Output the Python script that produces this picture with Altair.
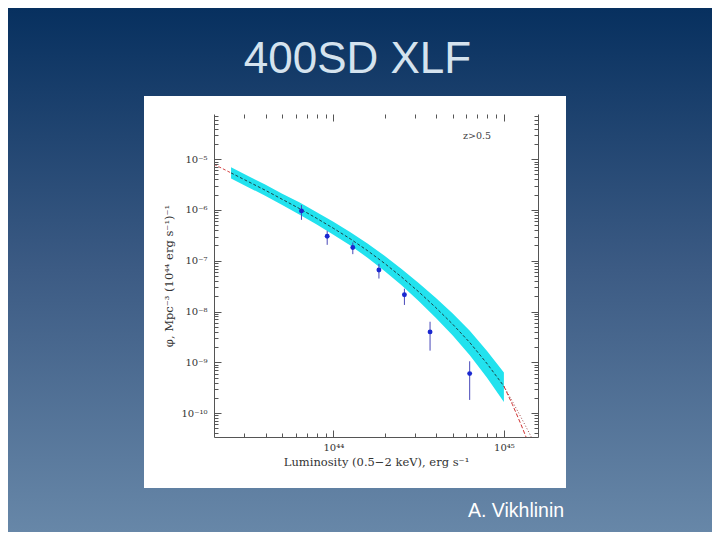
import altair as alt
import pandas as pd

# ---------------- data ----------------
# binned XLF points (L in erg/s, phi in Mpc^-3 (1e44 erg/s)^-1)
pt_L = [6.5e43, 9.2e43, 1.30e44, 1.85e44, 2.61e44, 3.69e44, 6.3e44]
pt_phi = [9.6e-7, 3.05e-7, 1.82e-7, 6.6e-8, 2.14e-8, 3.98e-9, 6.0e-10]
pt_lo = [6.4e-7, 2.06e-7, 1.35e-7, 4.47e-8, 1.35e-8, 1.70e-9, 1.82e-10]
pt_hi = [1.25e-6, 3.89e-7, 2.29e-7, 8.7e-8, 2.82e-8, 6.3e-9, 1.05e-9]

# model band (log10 values)
band_logL = [43.40, 43.5, 43.6, 43.7, 43.8, 43.9, 44.0, 44.1, 44.2, 44.3,
             44.4, 44.5, 44.6, 44.7, 44.8, 44.9, 45.0]
band_mid = [-5.27, -5.44, -5.61, -5.79, -5.97, -6.16, -6.36, -6.57, -6.80, -7.05,
            -7.32, -7.61, -7.92, -8.25, -8.61, -9.02, -9.47]
band_up = [0.11, 0.11, 0.11, 0.11, 0.12, 0.12, 0.13, 0.13, 0.14, 0.15,
           0.16, 0.17, 0.19, 0.21, 0.23, 0.25, 0.27]
band_dn = [0.11, 0.11, 0.11, 0.11, 0.12, 0.12, 0.13, 0.13, 0.14, 0.15,
           0.16, 0.18, 0.20, 0.22, 0.25, 0.28, 0.31]

# extrapolated model curves (red)
left_logL = [43.30, 43.40]
left_logphi = [-5.10, -5.27]
rdash_logL = [45.0, 45.05, 45.1, 45.15]
rdash_logphi = [-9.47, -9.83, -10.22, -10.64]
rdot_logL = [45.0, 45.05, 45.1, 45.15, 45.2]
rdot_logphi = [-9.47, -9.77, -10.08, -10.40, -10.73]

# axes
x_dom_log = [43.30, 45.2]
y_dom_log = [-10.47, -4.11]
x_major = [1e44, 1e45]
x_major_labels = ["10⁴⁴", "10⁴⁵"]
x_minor = [k * 1e43 for k in range(3, 10)] + [k * 1e44 for k in range(2, 10)]
y_major = [1e-10, 1e-9, 1e-8, 1e-7, 1e-6, 1e-5]
y_major_labels = ["10⁻¹⁰", "10⁻⁹", "10⁻⁸", "10⁻⁷", "10⁻⁶", "10⁻⁵"]
y_minor = [k * 10.0 ** n for n in range(-11, -4) for k in range(2, 10)
           if 10 ** y_dom_log[0] < k * 10.0 ** n < 10 ** y_dom_log[1]]

x_title = "Luminosity (0.5−2 keV), erg s⁻¹"
y_title = "φ, Mpc⁻³ (10⁴⁴ erg s⁻¹)⁻¹"
slide_title = "400SD XLF"
caption = "A. Vikhlinin"
z_label = "z>0.5"

# ---------------- tables ----------------
band_df = pd.DataFrame({
    "L": [10 ** v for v in band_logL],
    "mid": [10 ** m for m in band_mid],
    "hi": [10 ** (m + u) for m, u in zip(band_mid, band_up)],
    "lo": [10 ** (m - d) for m, d in zip(band_mid, band_dn)],
})
pts_df = pd.DataFrame({"L": pt_L, "phi": pt_phi, "lo": pt_lo, "hi": pt_hi})
left_df = pd.DataFrame({"L": [10 ** v for v in left_logL], "phi": [10 ** v for v in left_logphi]})
rdash_df = pd.DataFrame({"L": [10 ** v for v in rdash_logL], "phi": [10 ** v for v in rdash_logphi]})
rdot_df = pd.DataFrame({"L": [10 ** v for v in rdot_logL], "phi": [10 ** v for v in rdot_logphi]})

W, H = 324, 323
OX, OY = 206, 106          # plot origin inside the 704x524 svg
SVG_W, SVG_H = 704, 524

xs = alt.Scale(type="log", domain=[10 ** x_dom_log[0], 10 ** x_dom_log[1]], nice=False)
ys = alt.Scale(type="log", domain=[10 ** y_dom_log[0], 10 ** y_dom_log[1]], nice=False)

AX_COLOR = "#555555"
FONT = "DejaVu Serif"


def label_expr(vals, labs):
    return "[" + ",".join(f"'{l}'" for l in labs) + "][indexof([" + ",".join(repr(v) for v in vals) + "], datum.value)]"


def tick_axis(orient, values, size, **kw):
    return alt.Axis(orient=orient, values=values, tickSize=size, offset=-size,
                    domain=False, grid=False, tickColor=AX_COLOR, tickWidth=1,
                    labels=kw.pop("labels", False), zindex=1, title=kw.pop("title", None), **kw)


def domain_axis(orient):
    return alt.Axis(orient=orient, ticks=False, labels=False, domain=True,
                    domainColor=AX_COLOR, domainWidth=1, grid=False, zindex=1, title=None)


ax_x_major = tick_axis("bottom", x_major, 7, labels=True,
                       labelExpr=label_expr(x_major, x_major_labels),
                       labelFont=FONT, labelFontSize=10, labelColor="#333333", labelPadding=5,
                       title=x_title, titleFont=FONT, titleFontSize=11.5, titleFontWeight="normal",
                       titleColor="#333333", titlePadding=4)
ax_y_major = tick_axis("left", y_major, 7, labels=True,
                       labelExpr=label_expr(y_major, y_major_labels),
                       labelFont=FONT, labelFontSize=10, labelColor="#333333", labelPadding=7,
                       title=y_title, titleFont=FONT, titleFontSize=11.5, titleFontWeight="normal",
                       titleColor="#333333", titlePadding=6)
ax_x_minor = tick_axis("bottom", x_minor, 4)
ax_y_minor = tick_axis("left", y_minor, 4)
ax_x_top_major = tick_axis("top", x_major, 7)
ax_x_top_minor = tick_axis("top", x_minor, 4)
ax_y_right_major = tick_axis("right", y_major, 7)
ax_y_right_minor = tick_axis("right", y_minor, 4)

one = pd.DataFrame({"a": [0]})

background = alt.Chart(one).mark_rect(
    fill=alt.LinearGradient(
        gradient="linear",
        stops=[alt.GradientStop(color="#07305f", offset=0),
               alt.GradientStop(color="#3c5b84", offset=0.5),
               alt.GradientStop(color="#6787a8", offset=1)],
        x1=0, x2=0, y1=0, y2=1),
).encode(x=alt.value(-OX), x2=alt.value(SVG_W - OX), y=alt.value(-OY), y2=alt.value(SVG_H - OY))

panel = alt.Chart(one).mark_rect(fill="white").encode(
    x=alt.value(136 - OX), x2=alt.value(558 - OX), y=alt.value(88 - OY), y2=alt.value(480 - OY))

title = alt.Chart(pd.DataFrame({"t": [slide_title]})).mark_text(
    font="Liberation Sans", fontSize=44, color="#d5e3ee", align="center", baseline="alphabetic"
).encode(text="t:N", x=alt.value(143.5), y=alt.value(-41.5))

cap = alt.Chart(pd.DataFrame({"t": [caption]})).mark_text(
    font="Liberation Sans", fontSize=19.5, color="white", align="left", baseline="alphabetic"
).encode(text="t:N", x=alt.value(254), y=alt.value(402.7))

zlab = alt.Chart(pd.DataFrame({"t": [z_label]})).mark_text(
    font=FONT, fontSize=9.5, color="#444444", align="left", baseline="alphabetic"
).encode(text="t:N", x=alt.value(249), y=alt.value(25))

band = alt.Chart(band_df).mark_area(color="#22e2ee", clip=True).encode(
    x=alt.X("L:Q", scale=xs, axis=ax_x_major),
    y=alt.Y("lo:Q", scale=ys, axis=ax_y_major),
    y2="hi:Q")

center = alt.Chart(band_df).mark_line(color="#1a1a1a", strokeWidth=0.8, strokeDash=[3, 2], clip=True).encode(
    x=alt.X("L:Q", scale=xs, axis=ax_x_minor),
    y=alt.Y("mid:Q", scale=ys, axis=ax_y_minor))

left_line = alt.Chart(left_df).mark_line(color="#d03030", strokeWidth=0.9, strokeDash=[3, 2], clip=True).encode(
    x=alt.X("L:Q", scale=xs, axis=ax_x_top_major),
    y=alt.Y("phi:Q", scale=ys, axis=ax_y_right_major))

rdash = alt.Chart(rdash_df).mark_line(color="#d03030", strokeWidth=1, strokeDash=[4, 2], clip=True).encode(
    x=alt.X("L:Q", scale=xs, axis=ax_x_top_minor),
    y=alt.Y("phi:Q", scale=ys, axis=ax_y_right_minor))

rdot = alt.Chart(rdot_df).mark_line(color="#a04848", strokeWidth=1, strokeDash=[1, 2], clip=True).encode(
    x=alt.X("L:Q", scale=xs, axis=domain_axis("bottom")),
    y=alt.Y("phi:Q", scale=ys, axis=domain_axis("left")))

errbars = alt.Chart(pts_df).mark_rule(color="#4848b8", strokeWidth=1).encode(
    x=alt.X("L:Q", scale=xs, axis=None),
    y=alt.Y("lo:Q", scale=ys, axis=domain_axis("right")),
    y2="hi:Q")

points = alt.Chart(pts_df).mark_circle(color="#1a28d0", size=24, opacity=1).encode(
    x=alt.X("L:Q", scale=xs, axis=None),
    y=alt.Y("phi:Q", scale=ys, axis=None))

chart = alt.layer(
    background, panel, title, cap,
    band, center, left_line, rdash, rdot, errbars, points, zlab
).resolve_axis(x="independent", y="independent").properties(
    width=W, height=H, padding=0
).configure_view(strokeWidth=0)

chart.save("out.html", embed_options={"renderer": "svg", "actions": False})
